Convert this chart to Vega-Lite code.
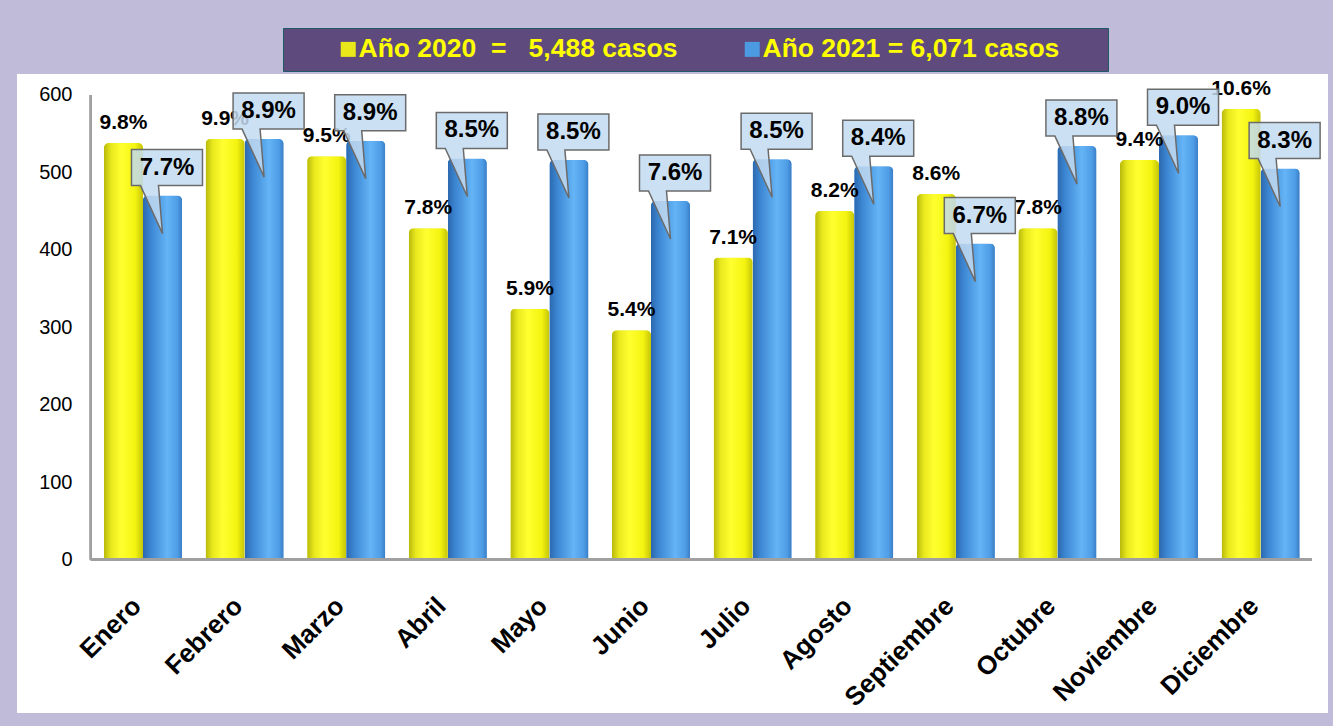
{
  "$schema": "https://vega.github.io/schema/vega-lite/v6.json",
  "width": 1311,
  "height": 639,
  "autosize": {"type": "none"},
  "padding": {"left": 17, "top": 74, "right": 5, "bottom": 13},
  "background": "#C0BBD9",
  "config": {"view": {"fill": "white", "stroke": null}, "font": "Liberation Sans"},
  "data": {"values": [
    {"mes": "Enero", "anio": "2020", "casos": 538, "pct": 0.098},
    {"mes": "Febrero", "anio": "2020", "casos": 543, "pct": 0.099},
    {"mes": "Marzo", "anio": "2020", "casos": 521, "pct": 0.095},
    {"mes": "Abril", "anio": "2020", "casos": 428, "pct": 0.078},
    {"mes": "Mayo", "anio": "2020", "casos": 324, "pct": 0.059},
    {"mes": "Junio", "anio": "2020", "casos": 296, "pct": 0.054},
    {"mes": "Julio", "anio": "2020", "casos": 390, "pct": 0.071},
    {"mes": "Agosto", "anio": "2020", "casos": 450, "pct": 0.082},
    {"mes": "Septiembre", "anio": "2020", "casos": 472, "pct": 0.086},
    {"mes": "Octubre", "anio": "2020", "casos": 428, "pct": 0.078},
    {"mes": "Noviembre", "anio": "2020", "casos": 516, "pct": 0.094},
    {"mes": "Diciembre", "anio": "2020", "casos": 582, "pct": 0.106},
    {"mes": "Enero", "anio": "2021", "casos": 470, "pct": 0.077},
    {"mes": "Febrero", "anio": "2021", "casos": 543, "pct": 0.089},
    {"mes": "Marzo", "anio": "2021", "casos": 541, "pct": 0.089},
    {"mes": "Abril", "anio": "2021", "casos": 518, "pct": 0.085},
    {"mes": "Mayo", "anio": "2021", "casos": 516, "pct": 0.085},
    {"mes": "Junio", "anio": "2021", "casos": 463, "pct": 0.076},
    {"mes": "Julio", "anio": "2021", "casos": 517, "pct": 0.085},
    {"mes": "Agosto", "anio": "2021", "casos": 508, "pct": 0.084},
    {"mes": "Septiembre", "anio": "2021", "casos": 408, "pct": 0.067},
    {"mes": "Octubre", "anio": "2021", "casos": 534, "pct": 0.088},
    {"mes": "Noviembre", "anio": "2021", "casos": 548, "pct": 0.090},
    {"mes": "Diciembre", "anio": "2021", "casos": 505, "pct": 0.083}
  ]},
  "layer": [
    {
      "mark": {"type": "bar", "cornerRadiusTopLeft": 5, "cornerRadiusTopRight": 5},
      "encoding": {
        "x": {
          "field": "mes", "type": "nominal",
          "scale": {"domain": ["Enero","Febrero","Marzo","Abril","Mayo","Junio","Julio","Agosto","Septiembre","Octubre","Noviembre","Diciembre"], "paddingInner": 0.232, "paddingOuter": 0.5676, "align": 0.754},
          "axis": {"title": null, "domain": false, "ticks": false, "tickSize": 0, "grid": false, "labelAngle": -45, "labelAlign": "right", "labelBaseline": "middle", "labelFontSize": 26, "labelFontWeight": "bold", "labelColor": "black", "labelPadding": 42, "labelOffset": -6, "offset": -153.5, "labelLimit": 400}
        },
        "xOffset": {"field": "anio", "type": "nominal", "sort": ["2020", "2021"]},
        "y": {
          "field": "casos", "type": "quantitative",
          "scale": {"domain": [-198.3, 627.1], "nice": false},
          "axis": {"title": null, "domain": false, "ticks": false, "tickSize": 0, "grid": false, "values": [0,100,200,300,400,500,600], "labelFontSize": 20, "labelColor": "black", "labelPadding": 19, "offset": -74}
        },
        "color": {
          "field": "anio", "type": "nominal",
          "scale": {"domain": ["2020", "2021"], "range": ["#E8E81A", "#4C9BE2"]},
          "legend": {
            "title": null, "orient": "none", "legendX": 266, "legendY": -46, "direction": "horizontal",
            "fillColor": "#5E4A7C", "strokeColor": "#1E5A66", "padding": 8,
            "symbolType": "square", "symbolSize": 225, "symbolStrokeWidth": 0, "symbolOffset": 44,
            "labelOffset": -3, "columnPadding": 17, "labelFont": "Liberation Sans", "labelFontWeight": "bold",
            "labelFontSize": 26.5, "labelColor": "#FFFF00", "labelLimit": 700,
            "labelExpr": "datum.value == '2020' ? 'Año 2020\u00a0\u00a0=\u00a0\u00a0\u00a05,488 casos' : 'Año 2021 = 6,071 casos\u2800\u2800'"
          }
        }
      }
    },
    {
      "transform": [{"filter": "datum.anio == '2020'"}],
      "mark": {"type": "bar", "cornerRadiusTopLeft": 5, "cornerRadiusTopRight": 5,
        "color": {"gradient": "linear", "x1": 0, "y1": 0, "x2": 1, "y2": 0, "stops": [
          {"offset": 0, "color": "#B8B80C"}, {"offset": 0.18, "color": "#E8E81E"}, {"offset": 0.45, "color": "#FFFF30"}, {"offset": 0.8, "color": "#F4F410"}, {"offset": 1, "color": "#C4C40A"}]}},
      "encoding": {
        "x": {"field": "mes", "type": "nominal"},
        "xOffset": {"field": "anio", "type": "nominal"},
        "y": {"field": "casos", "type": "quantitative"}
      }
    },
    {
      "transform": [{"filter": "datum.anio == '2021'"}],
      "mark": {"type": "bar", "cornerRadiusTopLeft": 5, "cornerRadiusTopRight": 5,
        "color": {"gradient": "linear", "x1": 0, "y1": 0, "x2": 1, "y2": 0, "stops": [
          {"offset": 0, "color": "#2C68AE"}, {"offset": 0.2, "color": "#3C86D2"}, {"offset": 0.62, "color": "#64B4F6"}, {"offset": 0.88, "color": "#4E9DE6"}, {"offset": 1, "color": "#3A7EC6"}]}},
      "encoding": {
        "x": {"field": "mes", "type": "nominal"},
        "xOffset": {"field": "anio", "type": "nominal"},
        "y": {"field": "casos", "type": "quantitative"}
      }
    },
    {
      "mark": {"type": "rule", "color": "#A0A0A0", "strokeWidth": 2},
      "encoding": {
        "x": {"datum": "Enero", "type": "nominal", "bandPosition": -0.167},
        "y": {"datum": 0, "type": "quantitative"},
        "y2": {"datum": 600}
      }
    },
    {
      "mark": {"type": "rule", "color": "#A0A0A0", "strokeWidth": 2},
      "encoding": {
        "x": {"datum": "Enero", "type": "nominal", "bandPosition": -0.167},
        "x2": {"datum": "Diciembre", "bandPosition": 1.154},
        "y": {"datum": 0, "type": "quantitative"}
      }
    },
    {
      "transform": [{"filter": "datum.anio == '2020'"}],
      "mark": {"type": "text", "fontSize": 21, "fontWeight": "bold", "color": "black", "baseline": "alphabetic", "dy": -14},
      "encoding": {
        "x": {"field": "mes", "type": "nominal"},
        "xOffset": {"field": "anio", "type": "nominal"},
        "y": {"field": "casos", "type": "quantitative"},
        "text": {"field": "pct", "type": "quantitative", "format": ".1%"}
      }
    },
    {
      "transform": [{"filter": "datum.anio == '2021'"}],
      "mark": {"type": "point", "shape": "M-0.775,-1.15H1V-0.25H-0.1L0,0.95L-0.55,-0.25H-0.775Z", "size": 6400, "filled": true, "fill": "#C3DAF1", "fillOpacity": 0.85, "stroke": "#6B6B6B", "strokeWidth": 1.5, "opacity": 1},
      "encoding": {
        "x": {"field": "mes", "type": "nominal"},
        "xOffset": {"field": "anio", "type": "nominal"},
        "y": {"field": "casos", "type": "quantitative"}
      }
    },
    {
      "transform": [{"filter": "datum.anio == '2021'"}],
      "mark": {"type": "text", "fontSize": 24, "fontWeight": "bold", "color": "black", "baseline": "middle", "dx": 4.5, "dy": -28},
      "encoding": {
        "x": {"field": "mes", "type": "nominal"},
        "xOffset": {"field": "anio", "type": "nominal"},
        "y": {"field": "casos", "type": "quantitative"},
        "text": {"field": "pct", "type": "quantitative", "format": ".1%"}
      }
    }
  ]
}
